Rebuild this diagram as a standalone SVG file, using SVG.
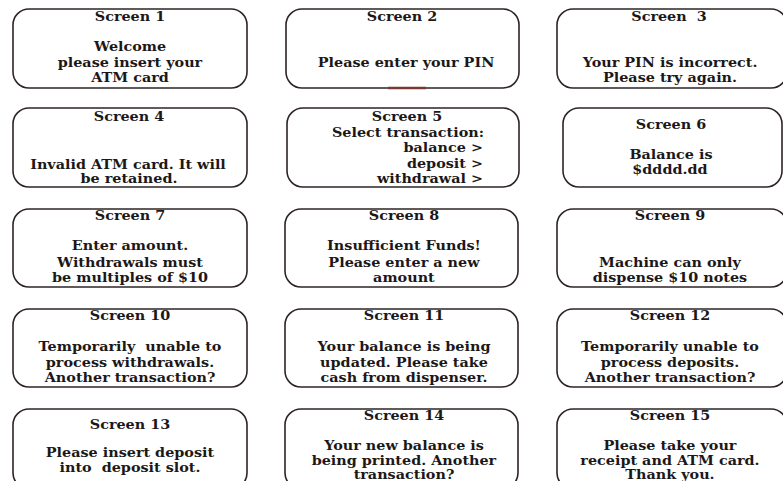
<svg xmlns="http://www.w3.org/2000/svg" width="783" height="481" viewBox="0 0 783 481">
<style>
.b{fill:#fff;stroke:#2e2424;stroke-width:1.6}
text{font-family:"DejaVu Serif","Liberation Serif",serif;font-weight:bold;font-size:12.5px;fill:#1c1818;text-anchor:middle;transform-box:fill-box;transform-origin:center;transform:scaleX(1.15)}
text.r{text-anchor:end;transform-origin:right center}
</style>
<rect width="783" height="481" fill="#fff"/>
<g id="screen1"><rect class="b" x="13" y="9" width="234" height="79" rx="16"/>
<text x="130" y="21">Screen 1</text><text x="130" y="51">Welcome</text><text x="130" y="67">please insert your</text><text x="130" y="82">ATM card</text></g>
<g id="screen2"><rect class="b" x="286" y="9" width="233" height="79" rx="16"/>
<line x1="388" y1="88" x2="426" y2="88" stroke="#7a3a34" stroke-width="2.4"/>
<text x="402" y="21">Screen 2</text><text x="406" y="67">Please enter your PIN</text></g>
<g id="screen3"><rect class="b" x="557" y="9" width="230" height="79" rx="16"/>
<text x="669" y="21" xml:space="preserve">Screen  3</text><text x="670" y="67">Your PIN is incorrect.</text><text x="670" y="82">Please try again.</text></g>
<g id="screen4"><rect class="b" x="13" y="108" width="234" height="79" rx="16"/>
<text x="129" y="121">Screen 4</text><text x="128" y="169">Invalid ATM card. It will</text><text x="129" y="183">be retained.</text></g>
<g id="screen5"><rect class="b" x="287" y="108" width="232" height="79" rx="16"/>
<text x="407" y="121">Screen 5</text><text x="408" y="137">Select transaction:</text><text class="r" x="483" y="152">balance &gt;</text><text class="r" x="483" y="168">deposit &gt;</text><text class="r" x="483" y="183">withdrawal &gt;</text></g>
<g id="screen6"><rect class="b" x="563" y="108" width="219" height="79" rx="16"/>
<text x="671" y="129">Screen 6</text><text x="671" y="159">Balance is</text><text x="670" y="174">$dddd.dd</text></g>
<g id="screen7"><rect class="b" x="13" y="209" width="234" height="78" rx="16"/>
<text x="130" y="220">Screen 7</text><text x="130" y="250">Enter amount.</text><text x="130" y="267">Withdrawals must</text><text x="130" y="282">be multiples of $10</text></g>
<g id="screen8"><rect class="b" x="285" y="209" width="233" height="78" rx="16"/>
<text x="404" y="220">Screen 8</text><text x="404" y="250">Insufficient Funds!</text><text x="404" y="267">Please enter a new</text><text x="404" y="282">amount</text></g>
<g id="screen9"><rect class="b" x="557" y="209" width="230" height="78" rx="16"/>
<text x="670" y="220">Screen 9</text><text x="670" y="267">Machine can only</text><text x="670" y="282">dispense $10 notes</text></g>
<g id="screen10"><rect class="b" x="13" y="309" width="234" height="78" rx="16"/>
<text x="130" y="320">Screen 10</text><text x="130" y="351" xml:space="preserve">Temporarily  unable to</text><text x="130" y="367">process withdrawals.</text><text x="130" y="382">Another transaction?</text></g>
<g id="screen11"><rect class="b" x="285" y="309" width="233" height="78" rx="16"/>
<text x="404" y="320">Screen 11</text><text x="404" y="351">Your balance is being</text><text x="404" y="367">updated. Please take</text><text x="404" y="382">cash from dispenser.</text></g>
<g id="screen12"><rect class="b" x="557" y="309" width="230" height="78" rx="16"/>
<text x="670" y="320">Screen 12</text><text x="670" y="351">Temporarily unable to</text><text x="670" y="367">process deposits.</text><text x="670" y="382">Another transaction?</text></g>
<g id="screen13"><rect class="b" x="13" y="409" width="234" height="80" rx="16"/>
<text x="130" y="429">Screen 13</text><text x="130" y="457">Please insert deposit</text><text x="130" y="472" xml:space="preserve">into  deposit slot.</text></g>
<g id="screen14"><rect class="b" x="285" y="409" width="233" height="80" rx="16"/>
<text x="404" y="420">Screen 14</text><text x="404" y="450">Your new balance is</text><text x="404" y="465">being printed. Another</text><text x="404" y="479">transaction?</text></g>
<g id="screen15"><rect class="b" x="557" y="409" width="230" height="80" rx="16"/>
<text x="670" y="420">Screen 15</text><text x="670" y="450">Please take your</text><text x="670" y="465">receipt and ATM card.</text><text x="670" y="479">Thank you.</text></g>
<g id="connectors"/>
</svg>
